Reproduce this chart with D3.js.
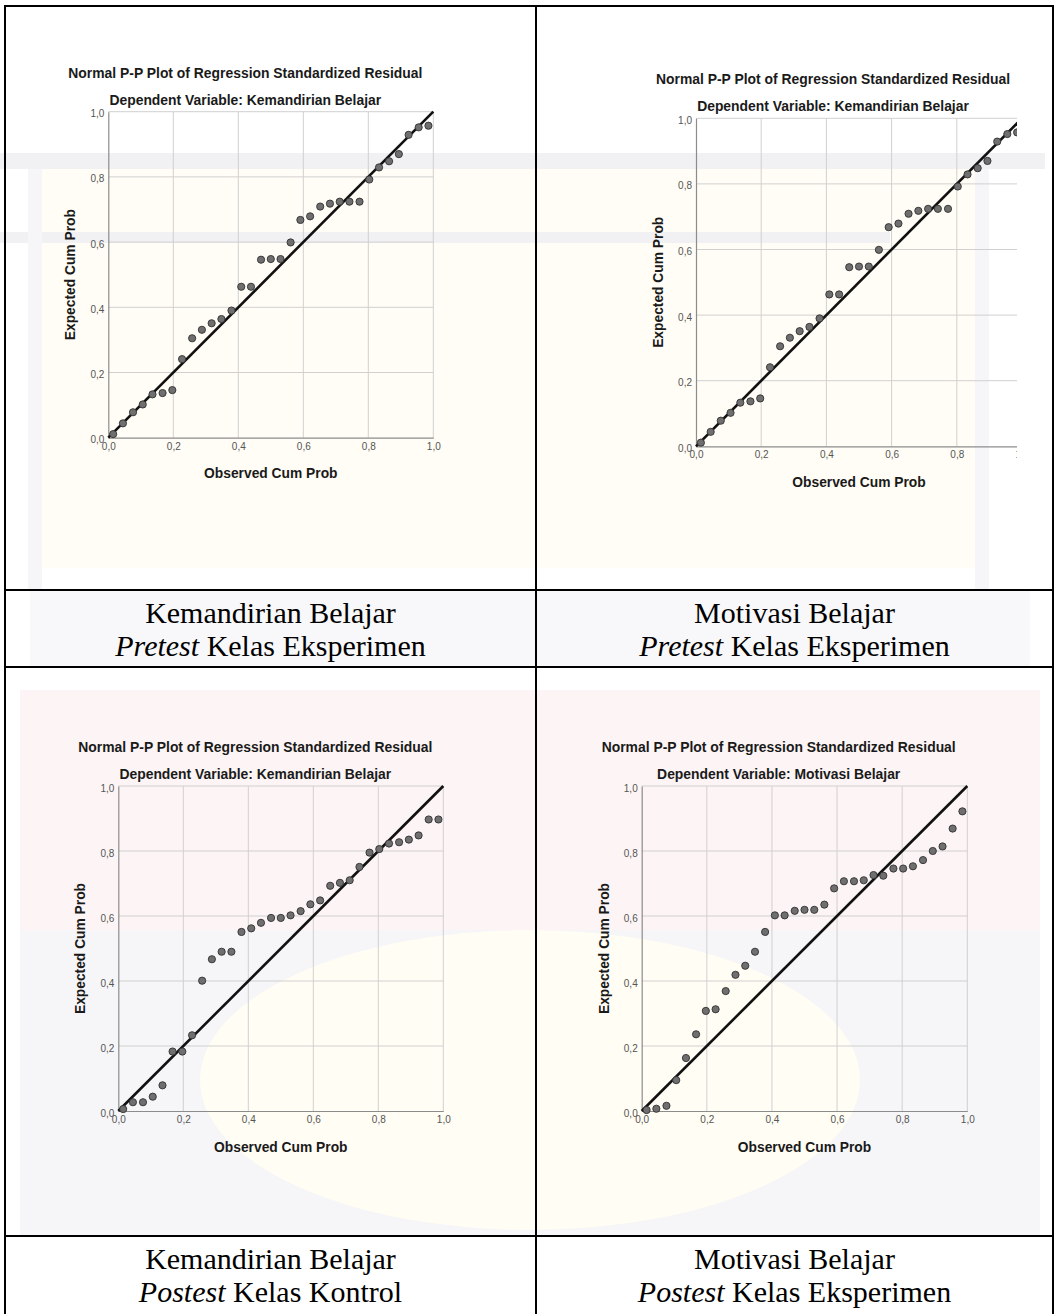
<!DOCTYPE html>
<html>
<head>
<meta charset="utf-8">
<script src="https://cdn.jsdelivr.net/npm/d3@7"></script>
<style>
  html, body { margin: 0; padding: 0; background: #fff; }
  svg { display: block; }
</style>
</head>
<body>
<svg id="page" width="1059" height="1314"></svg>
<script>
// observed cumulative probability (same 33 ranks in every panel)
const observedCum = [0.015, 0.045, 0.076, 0.106, 0.136, 0.167, 0.197, 0.227, 0.258, 0.288, 0.318,
  0.348, 0.379, 0.409, 0.439, 0.470, 0.500, 0.530, 0.561, 0.591, 0.621, 0.652,
  0.682, 0.712, 0.742, 0.773, 0.803, 0.833, 0.864, 0.894, 0.924, 0.955, 0.985]

// expected cumulative probability
const expKemandirianPre = [0.011, 0.044, 0.078, 0.102, 0.133, 0.137, 0.146, 0.241, 0.305, 0.331, 0.351,
  0.364, 0.390, 0.463, 0.463, 0.546, 0.548, 0.548, 0.599, 0.668, 0.679, 0.709,
  0.718, 0.724, 0.724, 0.724, 0.792, 0.829, 0.848, 0.870, 0.929, 0.952, 0.957]
const expKemandirianPost = [0.006, 0.027, 0.027, 0.044, 0.079, 0.183, 0.183, 0.233, 0.401, 0.467, 0.490,
  0.490, 0.551, 0.562, 0.579, 0.594, 0.594, 0.602, 0.615, 0.636, 0.648, 0.693,
  0.702, 0.710, 0.751, 0.795, 0.806, 0.823, 0.827, 0.835, 0.848, 0.897, 0.897]
const expMotivasiPost = [0.003, 0.007, 0.016, 0.095, 0.163, 0.236, 0.308, 0.313, 0.369, 0.419, 0.447,
  0.490, 0.551, 0.602, 0.602, 0.616, 0.619, 0.619, 0.635, 0.685, 0.707, 0.707,
  0.710, 0.726, 0.724, 0.746, 0.746, 0.753, 0.772, 0.800, 0.814, 0.869, 0.922]

const tickValues = [0, 0.2, 0.4, 0.6, 0.8, 1.0]
const chartTitle = 'Normal P-P Plot of Regression Standardized Residual'
const dependentVars = ['Kemandirian Belajar', 'Kemandirian Belajar', 'Kemandirian Belajar', 'Motivasi Belajar']
const captionTop = ['Kemandirian Belajar', 'Motivasi Belajar', 'Kemandirian Belajar', 'Motivasi Belajar']
const captionItalic = ['Pretest', 'Pretest', 'Postest', 'Postest']
const captionRest = [' Kelas Eksperimen', ' Kelas Eksperimen', ' Kelas Kontrol', ' Kelas Eksperimen']

const fmt = d3.formatLocale({ decimal: ',', thousands: '.', grouping: [3], currency: ['', ''] }).format('.1f')
const svg = d3.select('#page')

svg.append('rect').attr('width', 1059).attr('height', 1314).attr('fill', '#fff')

// very faint watermark tint behind the table (background only)
const wm = svg.append('g').attr('pointer-events', 'none')
wm.append('rect').attr('x', 30).attr('y', 168).attr('width', 950).attr('height', 400).attr('fill', '#fffdf5')
wm.append('rect').attr('x', 0).attr('y', 153).attr('width', 1045).attr('height', 16).attr('fill', '#f1f1f4')
wm.append('rect').attr('x', 0).attr('y', 232).attr('width', 890).attr('height', 11).attr('fill', '#f1f1f4')
wm.append('rect').attr('x', 28).attr('y', 169).attr('width', 14).attr('height', 420).attr('fill', '#f6f6f8')
wm.append('rect').attr('x', 975).attr('y', 169).attr('width', 14).attr('height', 420).attr('fill', '#f6f6f8')
wm.append('rect').attr('x', 30).attr('y', 590).attr('width', 1000).attr('height', 76).attr('fill', '#f8f8fa')
wm.append('rect').attr('x', 20).attr('y', 690).attr('width', 1020).attr('height', 240).attr('fill', '#fdf5f5')
wm.append('rect').attr('x', 20).attr('y', 930).attr('width', 1020).attr('height', 305).attr('fill', '#f6f6f8')
wm.append('ellipse').attr('cx', 530).attr('cy', 1080).attr('rx', 330).attr('ry', 150).attr('fill', '#fffdf4')

const panels = [
  { x0: 108.3, y0: 111.7, w: 325, h: 326, data: expKemandirianPre, clip: null },
  { x0: 696, y0: 118.3, w: 326, h: 328, data: expKemandirianPre, clip: 1017 },
  { x0: 118.3, y0: 786, w: 325, h: 325, data: expKemandirianPost, clip: null },
  { x0: 641.7, y0: 786, w: 325.6, h: 325, data: expMotivasiPost, clip: null },
]

const defs = svg.append('defs')
const sans = 'Liberation Sans, Arial, sans-serif'

panels.forEach((p, i) => {
  const x = d3.scaleLinear().domain([0, 1]).range([p.x0, p.x0 + p.w])
  const y = d3.scaleLinear().domain([0, 1]).range([p.y0 + p.h, p.y0])
  const g = svg.append('g')
  if (p.clip) {
    defs.append('clipPath').attr('id', `clip${i}`).append('rect').attr('x', 0).attr('y', 0).attr('width', p.clip).attr('height', 1314)
    g.attr('clip-path', `url(#clip${i})`)
  }

  // grid
  g.append('g').selectAll('line').data(tickValues.slice(1)).join('line')
    .attr('x1', (d) => x(d)).attr('x2', (d) => x(d)).attr('y1', y(0)).attr('y2', y(1))
    .attr('stroke', '#d0d0d0').attr('stroke-width', 1)
  g.append('g').selectAll('line').data(tickValues.slice(1)).join('line')
    .attr('y1', (d) => y(d)).attr('y2', (d) => y(d)).attr('x1', x(0)).attr('x2', x(1))
    .attr('stroke', '#d0d0d0').attr('stroke-width', 1)

  // axes
  const xAxis = d3.axisBottom(x).tickValues(tickValues).tickFormat(fmt).tickSize(0).tickPadding(5)
  const yAxis = d3.axisLeft(y).tickValues(tickValues).tickFormat(fmt).tickSize(0).tickPadding(4)
  const gx = g.append('g').attr('transform', `translate(0,${y(0)})`).call(xAxis)
  const gy = g.append('g').attr('transform', `translate(${x(0)},0)`).call(yAxis)
  for (const ax of [gx, gy]) {
    ax.select('.domain').attr('stroke', '#8c8c8c').attr('stroke-width', 1.2)
    ax.selectAll('text').attr('font-family', sans).attr('font-size', 10).attr('fill', '#555')
  }
  gy.selectAll('text').attr('dy', '0.5em')

  // reference diagonal
  g.append('line').attr('x1', x(0)).attr('y1', y(0)).attr('x2', x(1)).attr('y2', y(1))
    .attr('stroke', '#111').attr('stroke-width', 2.6)

  // points
  g.append('g').selectAll('circle').data(p.data).join('circle')
    .attr('cx', (d, k) => x(observedCum[k])).attr('cy', (d) => y(d)).attr('r', 3.6)
    .attr('fill', '#6f6f6f').attr('stroke', '#303030').attr('stroke-width', 0.9)

  // titles
  const tx = p.x0 + 137
  g.append('text').attr('x', tx).attr('y', p.y0 - 34).attr('text-anchor', 'middle')
    .attr('font-family', sans).attr('font-weight', 700).attr('font-size', 13.9).attr('fill', '#1a1a1a')
    .text(chartTitle)
  g.append('text').attr('x', tx).attr('y', p.y0 - 7).attr('text-anchor', 'middle')
    .attr('font-family', sans).attr('font-weight', 700).attr('font-size', 13.9).attr('fill', '#1a1a1a')
    .text(`Dependent Variable: ${dependentVars[i]}`)
  g.append('text').attr('x', p.x0 + p.w / 2).attr('y', p.y0 + p.h + 40.5).attr('text-anchor', 'middle')
    .attr('font-family', sans).attr('font-weight', 700).attr('font-size', 13.8).attr('fill', '#1a1a1a')
    .text('Observed Cum Prob')
  g.append('text').attr('transform', `translate(${p.x0 - 33},${p.y0 + p.h / 2}) rotate(-90)`).attr('text-anchor', 'middle')
    .attr('font-family', sans).attr('font-weight', 700).attr('font-size', 13.8).attr('fill', '#1a1a1a')
    .text('Expected Cum Prob')
})

// table grid
const table = svg.append('g').attr('stroke', '#000').attr('stroke-width', 2)
const colX = [5, 536, 1053]
const rowY = [6, 590, 667, 1236]
colX.forEach((cx) => table.append('line').attr('x1', cx).attr('x2', cx).attr('y1', rowY[0] - 1).attr('y2', 1314))
rowY.forEach((ry) => table.append('line').attr('x1', colX[0] - 1).attr('x2', colX[2] + 1).attr('y1', ry).attr('y2', ry))

// captions: two lines per cell, each its own text element
const capCenters = [[270.5, 590], [794.5, 590], [270.5, 1236], [794.5, 1236]]
const serif = 'Liberation Serif, Times New Roman, serif'
capCenters.forEach(([cx, top], i) => {
  svg.append('text').attr('x', cx).attr('y', top + 33).attr('text-anchor', 'middle')
    .attr('font-family', serif).attr('font-size', 30).attr('fill', '#000').text(captionTop[i])
  const l2 = svg.append('text').attr('x', cx).attr('y', top + 66).attr('text-anchor', 'middle')
    .attr('font-family', serif).attr('font-size', 30).attr('fill', '#000')
  l2.append('tspan').attr('font-style', 'italic').text(captionItalic[i])
  l2.append('tspan').text(captionRest[i])
})
</script>
</body>
</html>
